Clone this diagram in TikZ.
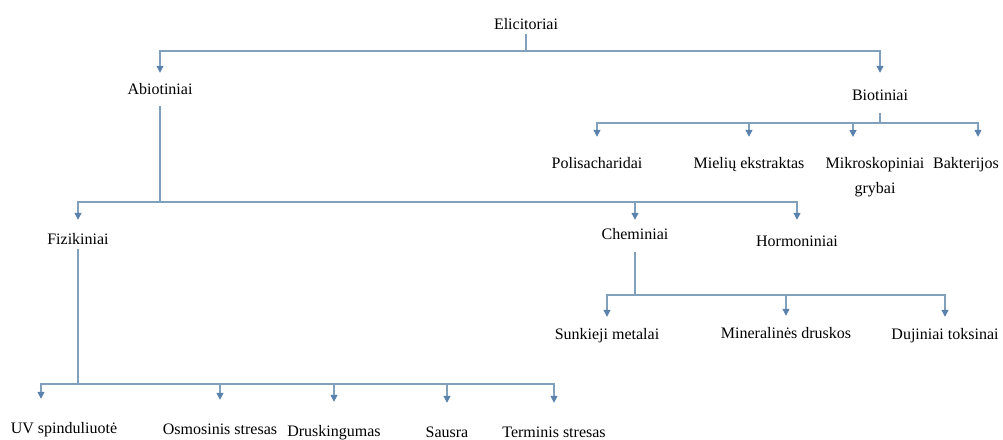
\documentclass[tikz,border=0pt]{standalone}
\usepackage{fontspec}
\setmainfont{Liberation Serif}
\newfontfamily\timesfont{Liberation Serif}
\usetikzlibrary{arrows.meta}
\definecolor{linkblue}{RGB}{128,160,188}
\definecolor{tipblue}{RGB}{90,130,172}

\begin{document}
\begin{tikzpicture}[x=1pt, y=-1pt,
  lbl/.style={inner sep=2pt, font=\timesfont\fontsize{16}{25}\selectfont},
  one/.style={lbl, text height=11pt, text depth=3pt, anchor=base},
  link/.style={draw=linkblue, line width=1.2pt},
  arr/.style={link, -{Triangle[length=7pt,width=7pt,color=tipblue]}}]
	\useasboundingbox (0,0) rectangle (1003,439);

	% Top levels
	\node[one] (elic) at (526,29) {Elicitoriai};
	\node[one] (abio) at (160,94) {Abiotiniai};
	\node[one] (bio) at (880,100) {Biotiniai};

	% Biotic group
	\node[one] (poli) at (597,168) {Polisacharidai};
	\node[one] (miel) at (749,168) {Mielių ekstraktas};
	\node[lbl, anchor=north, align=center] (mikro) at (875,155) {Mikroskopiniai\\grybai};
	\node[one] (bakt) at (966,168) {Bakterijos};

	% Abiotic group
	\node[one] (fiz) at (78,244) {Fizikiniai};
	\node[one] (chem) at (635,239) {Cheminiai};
	\node[one] (horm) at (797,246) {Hormoniniai};

	% Chemical group
	\node[one] (sunk) at (607,339) {Sunkieji metalai};
	\node[one] (mine) at (786,338) {Mineralinės druskos};
	\node[one] (duji) at (945,339) {Dujiniai toksinai};

	% Physical group
	\node[one] (uv) at (64,433) {UV spinduliuotė};
	\node[one] (osmo) at (220,434) {Osmosinis stresas};
	\node[one] (drus) at (334,436) {Druskingumas};
	\node[one] (saus) at (447,437) {Sausra};
	\node[one] (term) at (554,437) {Terminis stresas};

	% Junctions on the bus lines
	\coordinate (j0) at (526,51);
	\coordinate (j1) at (160,202);
	\coordinate (j2) at (880,123);
	\coordinate (j3) at (635,295);
	\coordinate (j4) at (78,384);

	% Elicitoriai -> Abiotiniai, Biotiniai
	\draw[link] (elic.south) -- (j0);
	\draw[arr, shorten >=8pt] (j0) -| (abio.north);
	\draw[arr, shorten >=14pt] (j0) -| (bio.north);

	% Biotiniai -> children
	\draw[link, shorten <=8pt] (bio.south) -- (j2);
	\draw[arr, shorten >=18pt] (j2) -| (poli.north);
	\draw[arr, shorten >=18pt] (j2) -| (miel.north);
	\draw[arr, shorten >=18pt] (j2) -| ([xshift=-22pt]mikro.north);
	\draw[arr, shorten >=18pt] (j2) -| ([xshift=12pt]bakt.north);

	% Abiotiniai -> children
	\draw[link, shorten <=7pt] (abio.south) -- (j1);
	\draw[arr, shorten >=11pt] (j1) -| (fiz.north);
	\draw[arr, shorten >=6pt] (j1) -| (chem.north);
	\draw[arr, shorten >=13pt] (j1) -| (horm.north);

	% Cheminiai -> children
	\draw[link, shorten <=8pt] (chem.south) -- (j3);
	\draw[arr, shorten >=9pt] (j3) -| (sunk.north);
	\draw[arr, shorten >=9pt] (j3) -| (mine.north);
	\draw[arr, shorten >=9pt] (j3) -| (duji.north);

	% Fizikiniai -> children
	\draw[link] (fiz.south) -- (j4);
	\draw[arr, shorten >=21pt] (j4) -| ([xshift=-23pt]uv.north);
	\draw[arr, shorten >=21pt] (j4) -| (osmo.north);
	\draw[arr, shorten >=21pt] (j4) -| (drus.north);
	\draw[arr, shorten >=21pt] (j4) -| (saus.north);
	\draw[arr, shorten >=21pt] (j4) -| (term.north);
\end{tikzpicture}
\end{document}
